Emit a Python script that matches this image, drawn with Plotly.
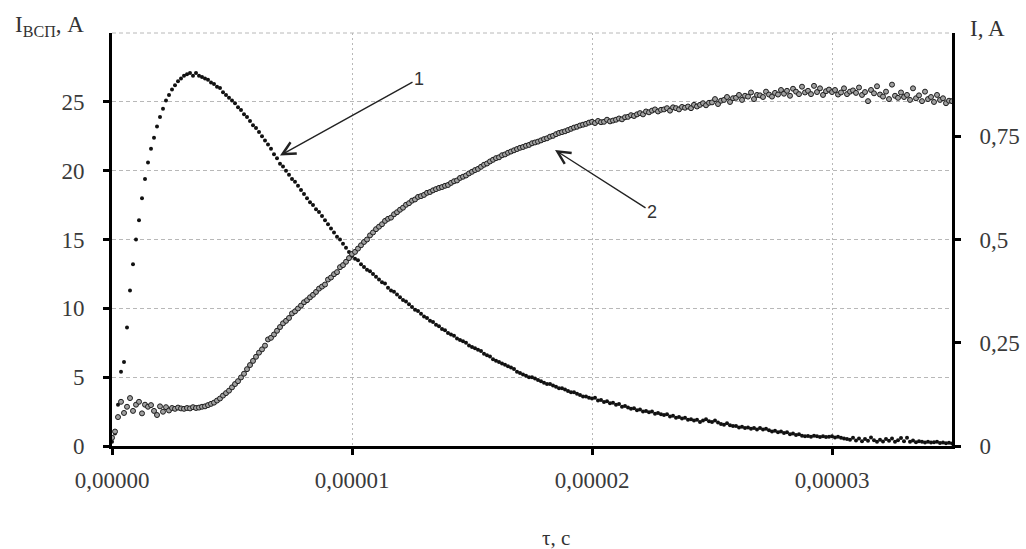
import plotly.graph_objects as go

# sampling step of the recorded signals, seconds
T_STEP = 1.25e-7

# Curve 1: flash current I_всп, A (left axis)
i_vsp = [
    0.3, 0.9, 3.0, 5.4, 6.1, 8.6, 11.3, 13.2,
    15.0, 16.4, 18.0, 19.4, 20.6, 21.6, 22.4, 23.2,
    23.9, 24.5, 25.1, 25.5, 25.9, 26.2, 26.5, 26.7,
    26.9, 27.0, 27.1, 26.9, 27.1, 26.9, 26.8, 26.7,
    26.6, 26.4, 26.3, 26.1, 26.0, 25.7, 25.5, 25.3,
    25.1, 24.9, 24.6, 24.4, 24.1, 23.9, 23.6, 23.3,
    23.1, 22.8, 22.5, 22.2, 21.9, 21.6, 21.2, 20.9,
    20.5, 20.3, 20.0, 19.7, 19.4, 19.2, 18.9, 18.6,
    18.3, 18.0, 17.7, 17.5, 17.2, 17.0, 16.7, 16.4,
    16.1, 15.8, 15.5, 15.2, 15.0, 14.7, 14.4, 14.1,
    13.8, 13.6, 13.5, 13.2, 13.0, 12.8, 12.7, 12.5,
    12.3, 12.1, 11.9, 11.8, 11.5, 11.3, 11.2, 11.0,
    10.8, 10.6, 10.5, 10.3, 10.1, 9.9, 9.8, 9.6,
    9.4, 9.3, 9.1, 9.0, 8.8, 8.7, 8.5, 8.4,
    8.2, 8.1, 8.0, 7.8, 7.7, 7.6, 7.5, 7.3,
    7.2, 7.1, 7.0, 6.9, 6.7, 6.6, 6.5, 6.3,
    6.2, 6.1, 6.0, 5.9, 5.8, 5.7, 5.6, 5.4,
    5.3, 5.2, 5.1, 5.0, 5.0, 4.9, 4.8, 4.7,
    4.6, 4.5, 4.5, 4.4, 4.3, 4.2, 4.2, 4.1,
    4.0, 3.9, 3.9, 3.8, 3.7, 3.6, 3.6, 3.5,
    3.45, 3.5, 3.3, 3.35, 3.2, 3.25, 3.1, 3.15,
    3.0, 3.05, 2.85, 2.9, 2.8, 2.7, 2.75, 2.6,
    2.65, 2.5, 2.55, 2.45, 2.5, 2.35, 2.4, 2.3,
    2.25, 2.3, 2.15, 2.2, 2.05, 2.1, 2.0, 2.05,
    1.9, 1.95, 1.85, 1.9, 1.75, 1.85, 1.95, 1.8,
    1.75, 1.85, 1.7, 1.6, 1.55, 1.65, 1.5, 1.45,
    1.45, 1.35, 1.4, 1.3, 1.35, 1.25, 1.3, 1.2,
    1.3, 1.2, 1.25, 1.15, 1.05, 1.1, 1.0, 1.05,
    0.95, 1.0, 0.85, 0.9, 0.8, 0.85, 0.75, 0.7,
    0.72, 0.68, 0.75, 0.7, 0.65, 0.7, 0.66, 0.68,
    0.7, 0.62, 0.68, 0.6, 0.55, 0.5, 0.45, 0.6,
    0.4, 0.55, 0.35, 0.5, 0.38, 0.62, 0.42, 0.3,
    0.45, 0.32, 0.5, 0.38, 0.55, 0.3, 0.42, 0.58,
    0.35, 0.6, 0.3, 0.4, 0.28, 0.35, 0.3, 0.25,
    0.3, 0.25, 0.28, 0.3, 0.22, 0.26, 0.2, 0.24,
    0.18,
]

# Curve 2: current I, A (right axis)
i_cur = [
    0.02, 0.035, 0.07, 0.107, 0.08, 0.095, 0.116, 0.085,
    0.10, 0.107, 0.079, 0.10, 0.095, 0.099, 0.085, 0.075,
    0.096, 0.083, 0.094, 0.086, 0.092, 0.09, 0.093, 0.091,
    0.09, 0.092, 0.091, 0.094, 0.092, 0.093, 0.095, 0.096,
    0.099, 0.102, 0.105, 0.11, 0.115, 0.122, 0.128, 0.134,
    0.142, 0.150, 0.157, 0.166, 0.175, 0.186, 0.196, 0.206,
    0.216, 0.226, 0.234, 0.243, 0.258, 0.262, 0.27, 0.279,
    0.288, 0.297, 0.303, 0.310, 0.321, 0.326, 0.333, 0.340,
    0.348, 0.353, 0.36, 0.366, 0.373, 0.381, 0.386, 0.391,
    0.403, 0.408, 0.416, 0.421, 0.433, 0.438, 0.446, 0.455,
    0.465, 0.47, 0.478, 0.486, 0.494, 0.50, 0.51, 0.517,
    0.525, 0.531, 0.537, 0.545, 0.55, 0.553, 0.561, 0.566,
    0.572, 0.577, 0.584, 0.588, 0.594, 0.597, 0.603, 0.605,
    0.608, 0.613, 0.615, 0.619, 0.622, 0.625, 0.627, 0.63,
    0.632, 0.637, 0.641, 0.643, 0.649, 0.652, 0.655, 0.66,
    0.664, 0.668, 0.671, 0.676, 0.681, 0.684, 0.689, 0.693,
    0.697, 0.699, 0.704, 0.706, 0.71, 0.713, 0.716, 0.719,
    0.722, 0.724, 0.727, 0.729, 0.733, 0.735, 0.737, 0.74,
    0.743, 0.745, 0.749, 0.751, 0.755, 0.758, 0.76, 0.762,
    0.765, 0.768, 0.771, 0.773, 0.776, 0.778, 0.78, 0.783,
    0.785, 0.782, 0.787, 0.784, 0.785, 0.79, 0.786, 0.788,
    0.79, 0.793, 0.791, 0.796, 0.797, 0.801, 0.799, 0.803,
    0.806, 0.803, 0.81, 0.808, 0.812, 0.815, 0.81, 0.814,
    0.815, 0.818, 0.812, 0.82, 0.818, 0.815, 0.821, 0.819,
    0.822, 0.818, 0.826, 0.822, 0.826, 0.83, 0.825, 0.831,
    0.832, 0.84, 0.828, 0.836, 0.838, 0.845, 0.833, 0.842,
    0.843, 0.85, 0.838, 0.848, 0.846, 0.856, 0.84, 0.85,
    0.849, 0.845, 0.858, 0.851, 0.846, 0.855, 0.851, 0.862,
    0.853, 0.86, 0.848, 0.865, 0.858, 0.852, 0.87, 0.856,
    0.86, 0.852, 0.872, 0.857, 0.866, 0.85, 0.859, 0.863,
    0.857, 0.862, 0.851, 0.856, 0.866, 0.852, 0.858, 0.861,
    0.855, 0.868, 0.85, 0.857, 0.835, 0.862, 0.854, 0.871,
    0.851, 0.846, 0.858, 0.84, 0.875, 0.848, 0.843, 0.856,
    0.845, 0.85, 0.838, 0.866, 0.842, 0.849, 0.835, 0.858,
    0.84, 0.845, 0.833, 0.85, 0.838, 0.842, 0.83, 0.836,
    0.835,
]

x_ticks = [0, 1e-5, 2e-5, 3e-5]
x_tick_labels = ["0,00000", "0,00001", "0,00002", "0,00003"]
y_left_ticks = [0, 5, 10, 15, 20, 25]
y_left_labels = ["0", "5", "10", "15", "20", "25"]
y_right_ticks = [0, 0.25, 0.5, 0.75]
y_right_labels = ["0", "0,25", "0,5", "0,75"]

t1 = [i * T_STEP for i in range(len(i_vsp))]
t2 = [i * T_STEP for i in range(len(i_cur))]

SERIF = "Liberation Serif"
TICK_FONT = dict(family=SERIF, size=23, color="#3a3a3a")
GRID = "#b8b8b8"

fig = go.Figure()
fig.add_trace(go.Scatter(
    x=t2, y=i_cur, mode="markers", yaxis="y2", name="2",
    marker=dict(symbol="circle", size=5, color="#a0a0a0",
                line=dict(color="#1e1e1e", width=1)),
))
fig.add_trace(go.Scatter(
    x=t1, y=i_vsp, mode="markers", yaxis="y", name="1",
    marker=dict(symbol="circle", size=4, color="#111111", line=dict(width=0)),
))

fig.update_layout(
    width=1026, height=549,
    margin=dict(l=112, r=74, t=33, b=103),
    paper_bgcolor="white", plot_bgcolor="white",
    showlegend=False,
    font=dict(family=SERIF, color="#333333"),
    xaxis=dict(
        range=[0, 3.5e-5], tickvals=x_ticks, ticktext=x_tick_labels,
        tickfont=TICK_FONT, showline=True, linecolor="black", linewidth=3,
        ticks="outside", ticklen=6, tickwidth=3, tickcolor="black",
        showgrid=True, gridcolor=GRID, gridwidth=1, griddash="2px,3px",
        zeroline=False, ticklabelstandoff=5, automargin=False,
    ),
    yaxis=dict(
        range=[0, 30], tickvals=y_left_ticks, ticktext=y_left_labels,
        tickfont=TICK_FONT, showline=True, linecolor="black", linewidth=3,
        ticks="outside", ticklen=6, tickwidth=3, tickcolor="black",
        showgrid=True, gridcolor=GRID, gridwidth=1, griddash="4px,3px",
        zeroline=False, ticklabelstandoff=14, automargin=False,
    ),
    yaxis2=dict(
        range=[0, 1], tickvals=y_right_ticks, ticktext=y_right_labels,
        overlaying="y", side="right",
        tickfont=TICK_FONT, showline=True, linecolor="black", linewidth=3,
        ticks="outside", ticklen=6, tickwidth=3, tickcolor="black",
        showgrid=False, zeroline=False, ticklabelstandoff=14, automargin=False,
    ),
    shapes=[dict(type="line", xref="paper", yref="paper", x0=0, x1=1, y0=1, y1=1,
                 line=dict(color=GRID, width=1, dash="4px,3px"), layer="below")],
)

annotations = [
    dict(text="I<sub>ВСП</sub>, A",
         xref="paper", yref="paper", x=-0.118, y=1.017,
         xanchor="left", yanchor="middle", showarrow=False,
         font=dict(family=SERIF, size=23, color="#333333")),
    dict(text="I, A", xref="paper", yref="paper", x=1.019, y=1.012,
         xanchor="left", yanchor="middle", showarrow=False,
         font=dict(family=SERIF, size=23, color="#333333")),
    dict(text="τ, с", xref="paper", yref="paper", x=0.529, y=-0.223,
         xanchor="center", yanchor="middle", showarrow=False,
         font=dict(family=SERIF, size=21, color="#333333")),
    dict(text="1", x=7.0e-6, y=21.1, xref="x", yref="y", ax=139, ay=-77,
         showarrow=True, arrowhead=5, arrowsize=1.8, arrowwidth=1.4, arrowcolor="#222222",
         font=dict(family="Liberation Sans", size=18, color="#333333")),
    dict(text="2", x=1.846e-5, y=21.5, xref="x", yref="y", ax=97, ay=62,
         showarrow=True, arrowhead=5, arrowsize=1.8, arrowwidth=1.4, arrowcolor="#222222",
         font=dict(family="Liberation Sans", size=18, color="#333333")),
]
fig.update_layout(annotations=annotations)

fig.write_html(
    "out.html",
    config={"displayModeBar": False},
    post_script="document.body.style.margin='0';document.body.style.overflow='hidden';",
)
